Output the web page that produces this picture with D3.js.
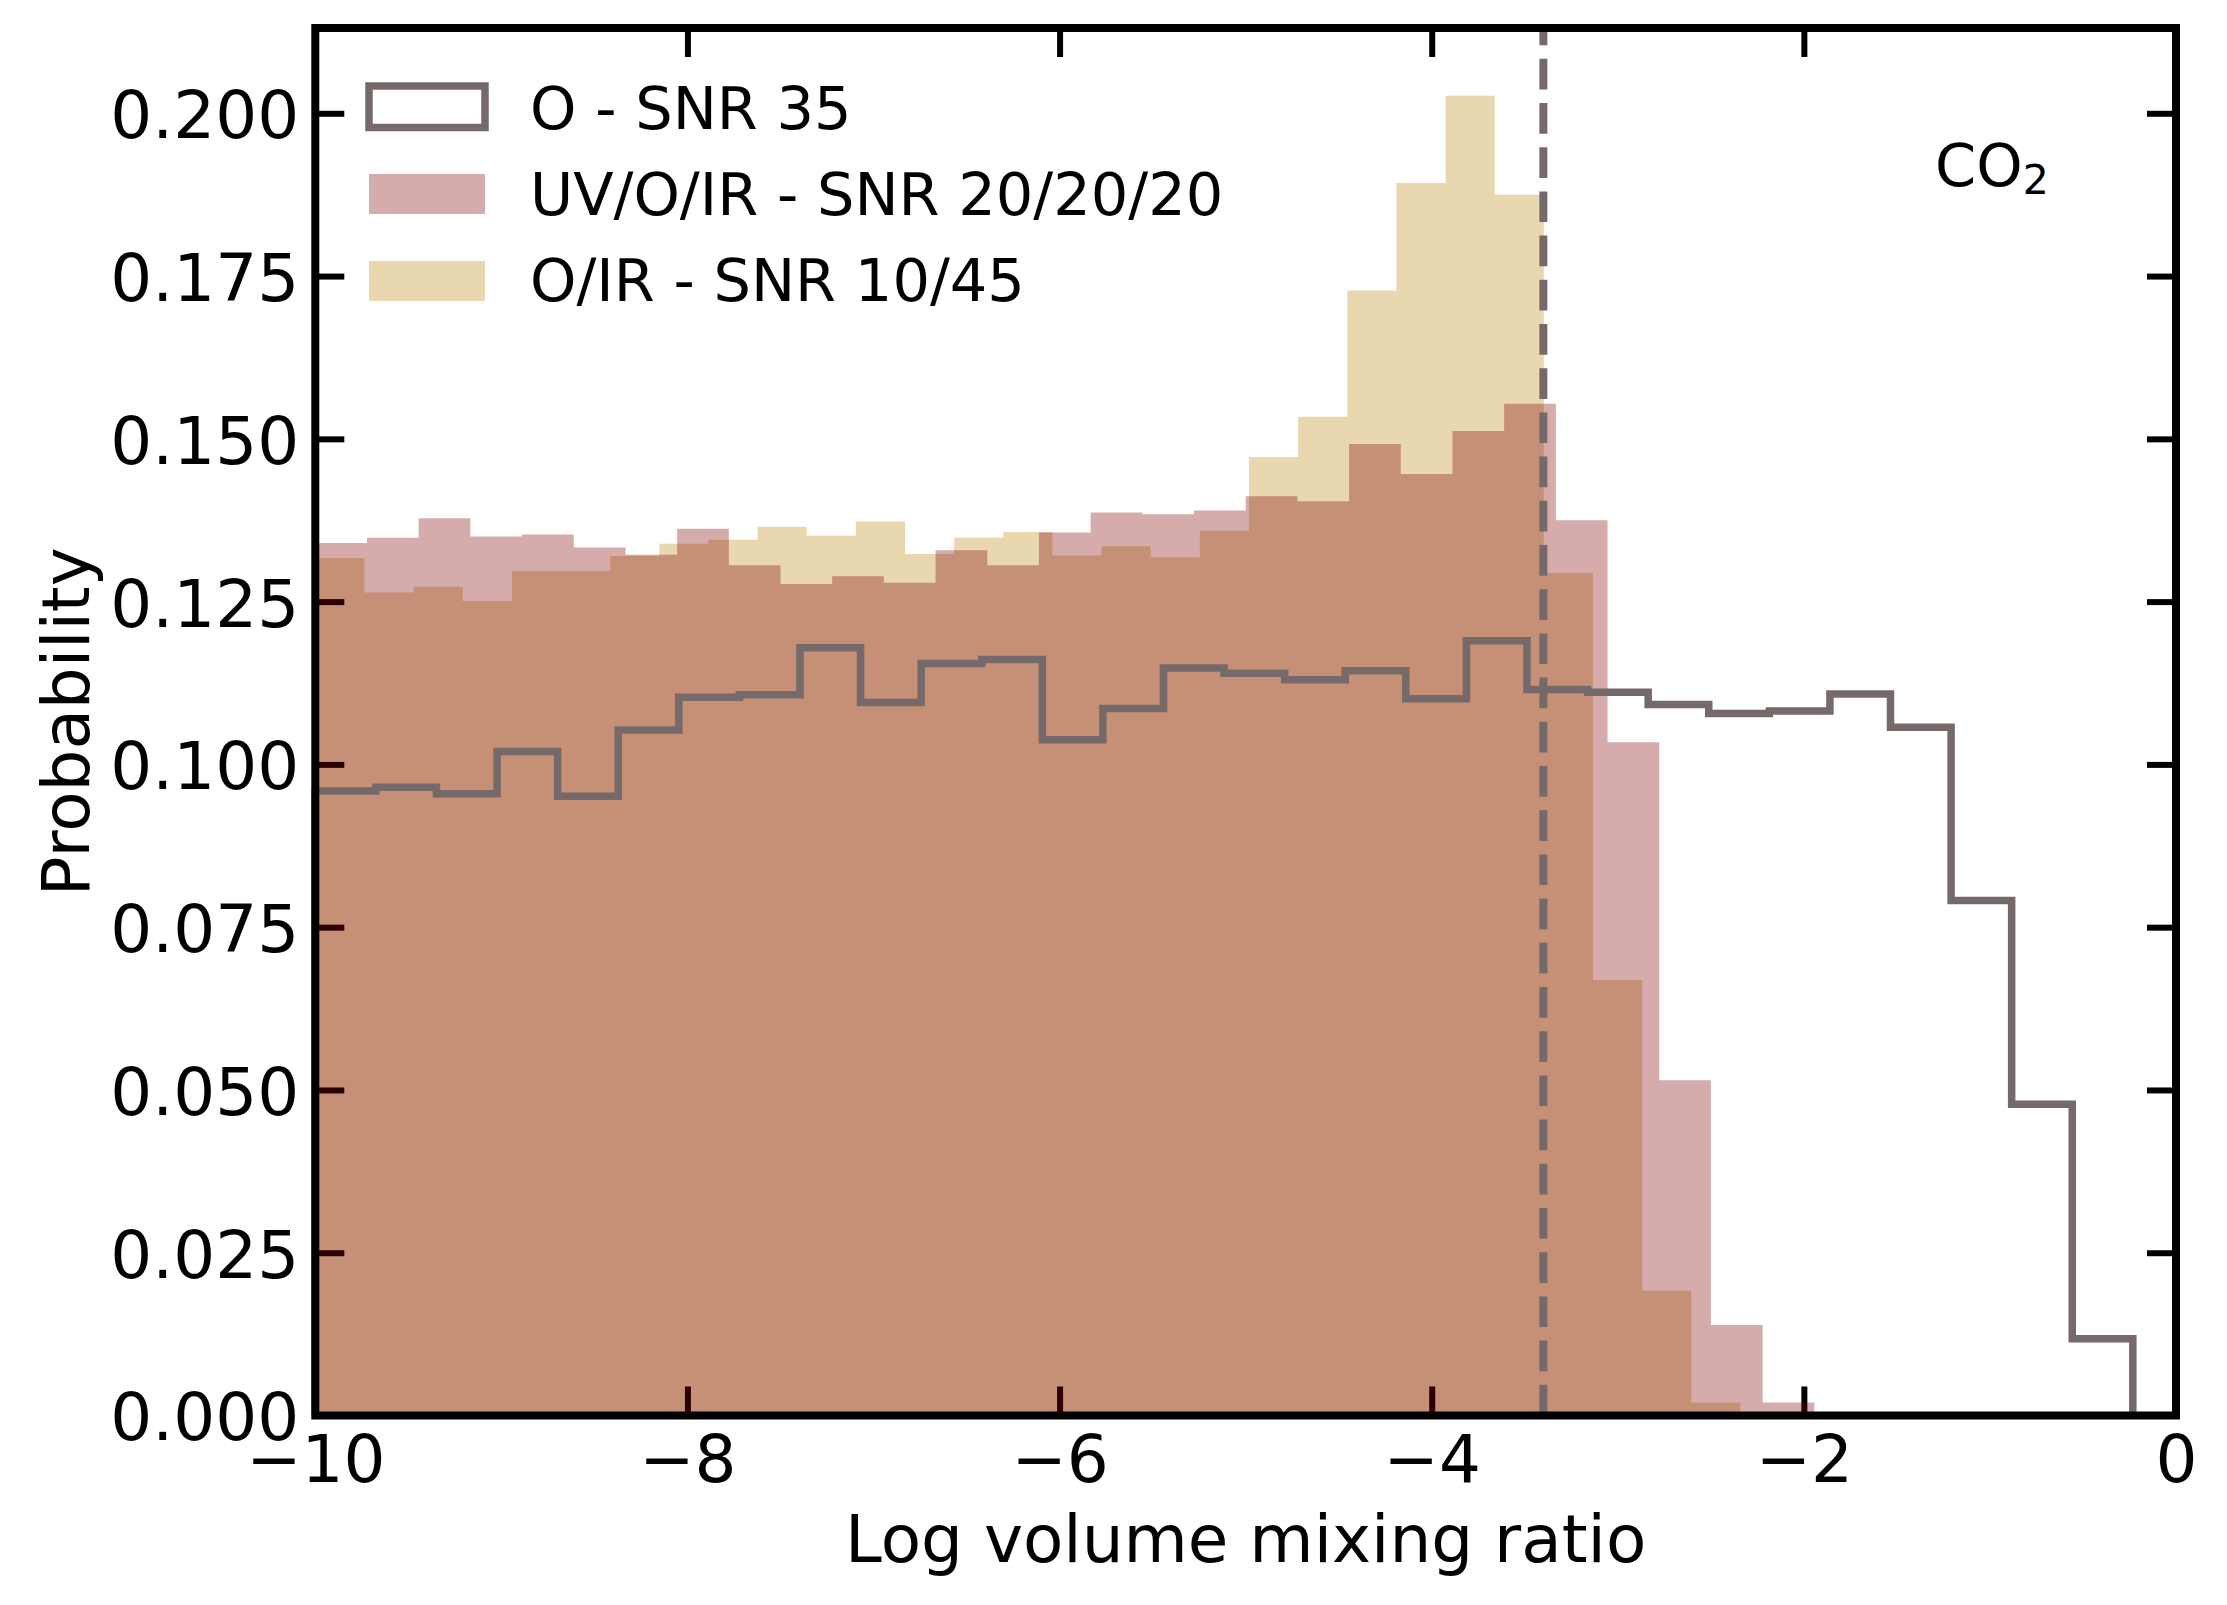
<!DOCTYPE html>
<html>
<head>
<meta charset="utf-8">
<script src="https://cdn.jsdelivr.net/npm/d3@7"></script>
<style>
  body { margin: 0; background: #fff; }
  text { font-family: 'DejaVu Sans', sans-serif; }
</style>
</head>
<body>
<script>
// values
const seriesLabels = ['O - SNR 35', 'UV/O/IR - SNR 20/20/20', 'O/IR - SNR 10/45'];
const xTickValues = [-10, -8, -6, -4, -2, 0];
const yTickValues = [0, 0.025, 0.05, 0.075, 0.1, 0.125, 0.15, 0.175, 0.2];
const trueValue = -3.40;

// O - SNR 35 (step outline), 30 bins
const oRange = [-10, -0.232];
const oProb = [0.0959, 0.0965, 0.0955, 0.1020, 0.0951, 0.1053, 0.1103, 0.1107, 0.1179, 0.1095,
  0.1155, 0.1161, 0.1038, 0.1086, 0.1148, 0.1140, 0.1130, 0.1144, 0.1101, 0.1190,
  0.1115, 0.1111, 0.1092, 0.1078, 0.1082, 0.1108, 0.1057, 0.0791, 0.0478, 0.0118];

// UV/O/IR - SNR 20/20/20, 29 bins
const uvoirRange = [-10, -1.944];
const uvoirProb = [0.1340, 0.1348, 0.1378, 0.1350, 0.1353, 0.1333, 0.1322, 0.1362, 0.1306, 0.1277,
  0.1289, 0.1279, 0.1329, 0.1306, 0.1356, 0.1387, 0.1384, 0.1390, 0.1412, 0.1404,
  0.1492, 0.1446, 0.1512, 0.1554, 0.1375, 0.1034, 0.0515, 0.0139, 0.0020];

// O/IR - SNR 10/45, 29 bins
const oirRange = [-10, -2.341];
const oirProb = [0.1317, 0.1264, 0.1273, 0.1251, 0.1297, 0.1297, 0.1320, 0.1339, 0.1345, 0.1365,
  0.1351, 0.1373, 0.1323, 0.1348, 0.1357, 0.1321, 0.1335, 0.1318, 0.1359, 0.1472,
  0.1534, 0.1728, 0.1893, 0.2027, 0.1875, 0.1294, 0.0669, 0.0192, 0.0020];

const w = 2227;
const h = 1605;
const plotLeft = 315.3, plotRight = 2176, plotTop = 28, plotBottom = 1415.5;
const grey = '#756969';
const tickLen = 29;

const x = d3.scaleLinear().domain([-10, 0]).range([plotLeft, plotRight]);
const y = d3.scaleLinear().domain([0, 0.2131]).range([plotBottom, plotTop]);

// turn a range + bin heights into step points (last point closes the last bin)
const toSteps = (range, probs) => {
  const step = (range[1] - range[0]) / probs.length;
  let pts = probs.map((p, i) => ({ x: range[0] + i * step, p: p }));
  pts.push({ x: range[1], p: probs[probs.length - 1] });
  return pts;
};

const svg = d3.select('body')
  .append('svg')
  .attr('width', w)
  .attr('height', h);

svg.append('rect').attr('width', w).attr('height', h).attr('fill', '#fff');

const area = d3.area()
  .x(d => x(d.x))
  .y0(y(0))
  .y1(d => y(d.p))
  .curve(d3.curveStepAfter);

//O/IR filled histogram
svg.append('path')
  .attr('d', area(toSteps(oirRange, oirProb)))
  .attr('fill', 'darkgoldenrod')
  .attr('fill-opacity', 0.33);

//axes ticks (they sit under the red fill in the original)
const styleAxis = (g) => {
  g.select('.domain').remove();
  g.selectAll('.tick line').attr('stroke', '#000').attr('stroke-width', 6);
  g.attr('font-size', 66).attr('font-family', "'DejaVu Sans', sans-serif").attr('fill', '#000');
  g.selectAll('.tick text').attr('fill', '#000');
};

svg.append('g')
  .attr('transform', `translate(0, ${plotBottom})`)
  .call(d3.axisBottom(x).tickValues(xTickValues).tickSize(-tickLen).tickPadding(20).tickFormat(d3.format('')))
  .call(styleAxis);

svg.append('g')
  .attr('transform', `translate(0, ${plotTop})`)
  .call(d3.axisTop(x).tickValues(xTickValues).tickSize(-tickLen).tickFormat(''))
  .call(styleAxis);

const yAxisG = svg.append('g')
  .attr('transform', `translate(${plotLeft}, 0)`)
  .call(d3.axisLeft(y).tickValues(yTickValues).tickSize(-tickLen).tickPadding(16).tickFormat(d3.format('.3f')))
  .call(styleAxis);
yAxisG.selectAll('.tick text').attr('dy', '0.37em');

svg.append('g')
  .attr('transform', `translate(${plotRight}, 0)`)
  .call(d3.axisRight(y).tickValues(yTickValues).tickSize(-tickLen).tickFormat(''))
  .call(styleAxis);

//UV/O/IR filled histogram
svg.append('path')
  .attr('d', area(toSteps(uvoirRange, uvoirProb)))
  .attr('fill', 'maroon')
  .attr('fill-opacity', 0.33);

//O step outline
let oPts = toSteps(oRange, oProb);
oPts.unshift({ x: oRange[0], p: 0 });
oPts.push({ x: oRange[1], p: 0 });
svg.append('path')
  .attr('d', d3.line().x(d => x(d.x)).y(d => y(d.p)).curve(d3.curveStepAfter)(oPts))
  .attr('fill', 'none')
  .attr('stroke', grey)
  .attr('stroke-width', 7.5)
  .attr('stroke-linejoin', 'miter');

//dashed vertical line at the true value
svg.append('line')
  .attr('x1', x(trueValue))
  .attr('x2', x(trueValue))
  .attr('y1', plotBottom)
  .attr('y2', plotTop)
  .attr('stroke', grey)
  .attr('stroke-width', 8)
  .attr('stroke-dasharray', '30.7 13.5');

//frame
svg.append('rect')
  .attr('x', plotLeft)
  .attr('y', plotTop)
  .attr('width', plotRight - plotLeft)
  .attr('height', plotBottom - plotTop)
  .attr('fill', 'none')
  .attr('stroke', '#000')
  .attr('stroke-width', 8);

//axis labels
svg.append('text')
  .attr('x', (plotLeft + plotRight) / 2)
  .attr('y', 1562)
  .attr('text-anchor', 'middle')
  .attr('font-size', 66)
  .text('Log volume mixing ratio');

svg.append('text')
  .attr('transform', `translate(89, ${(plotTop + plotBottom) / 2}) rotate(-90)`)
  .attr('text-anchor', 'middle')
  .attr('font-size', 66)
  .text('Probability');

//legend
const legend = svg.append('g');
legend.append('rect')
  .attr('x', 369).attr('y', 86).attr('width', 116).attr('height', 41.5)
  .attr('fill', 'none').attr('stroke', grey).attr('stroke-width', 7.5);
legend.append('rect')
  .attr('x', 369).attr('y', 174).attr('width', 116).attr('height', 40)
  .attr('fill', 'maroon').attr('fill-opacity', 0.33);
legend.append('rect')
  .attr('x', 369).attr('y', 261).attr('width', 116).attr('height', 40)
  .attr('fill', 'darkgoldenrod').attr('fill-opacity', 0.33);

legend.selectAll('text.lab')
  .data(seriesLabels)
  .enter()
  .append('text')
  .attr('class', 'lab')
  .attr('x', 530)
  .attr('y', (d, i) => 129 + i * 86)
  .attr('font-size', 59)
  .text(d => d);

//molecule label
const co2 = svg.append('text')
  .attr('x', 1935)
  .attr('y', 186)
  .attr('font-size', 59);
co2.append('tspan').text('CO');
co2.append('tspan').attr('font-size', 41).attr('dy', 8).text('2');
</script>
</body>
</html>
